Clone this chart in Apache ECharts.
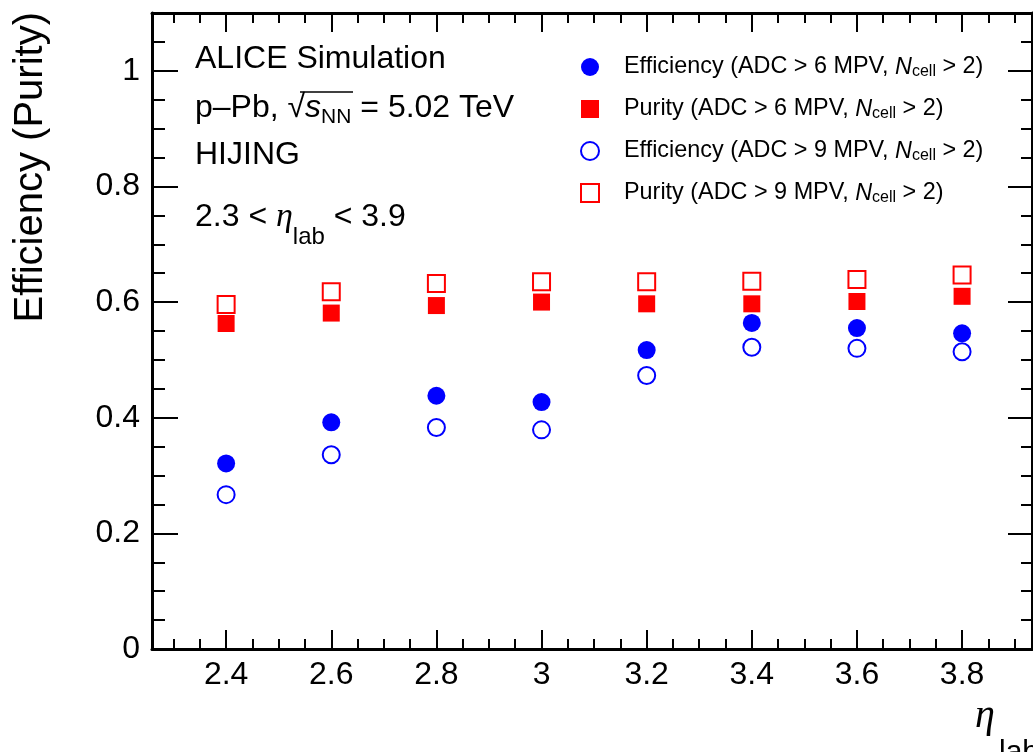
<!DOCTYPE html>
<html>
<head>
<meta charset="utf-8">
<title>Efficiency and purity vs eta</title>
<script src="https://cdn.jsdelivr.net/npm/echarts@6/dist/echarts.min.js"></script>
<style>
  html, body { margin: 0; padding: 0; background: #fff; }
  #chart { width: 1033px; height: 752px; }
</style>
</head>
<body>
<div id="chart"></div>
<script>
// eta_lab bin centres
const etaBins = [2.4, 2.6, 2.8, 3.0, 3.2, 3.4, 3.6, 3.8];

// ADC > 6 MPV, N_cell > 2
const effAdc6 = [0.321, 0.392, 0.438, 0.427, 0.517, 0.564, 0.555, 0.546];
const purAdc6 = [0.563, 0.581, 0.594, 0.600, 0.597, 0.597, 0.601, 0.610];

// ADC > 9 MPV, N_cell > 2
const effAdc9 = [0.267, 0.336, 0.383, 0.379, 0.473, 0.522, 0.520, 0.514];
const purAdc9 = [0.596, 0.618, 0.632, 0.635, 0.635, 0.636, 0.639, 0.647];

// series names (N_cell is typeset with an italic N and a subscript)
const seriesNames = [
  'Efficiency (ADC > 6 MPV, N_cell > 2)',
  'Purity (ADC > 6 MPV, N_cell > 2)',
  'Efficiency (ADC > 9 MPV, N_cell > 2)',
  'Purity (ADC > 9 MPV, N_cell > 2)'
];

// axis ticks
const xMajorTicks = [2.4, 2.6, 2.8, 3.0, 3.2, 3.4, 3.6, 3.8];
const xMinorTicks = [2.3, 2.35, 2.45, 2.5, 2.55, 2.65, 2.7, 2.75, 2.85, 2.9, 2.95,
                     3.05, 3.1, 3.15, 3.25, 3.3, 3.35, 3.45, 3.5, 3.55, 3.65, 3.7, 3.75, 3.85, 3.9];
const yMajorTicks = [0, 0.2, 0.4, 0.6, 0.8, 1.0];
const yMinorTicks = [0.05, 0.1, 0.15, 0.25, 0.3, 0.35, 0.45, 0.5, 0.55, 0.65, 0.7, 0.75,
                     0.85, 0.9, 0.95, 1.05];

const X_RANGE = [2.259, 3.933];
const Y_RANGE = [0, 1.1];

const SANS = '"Liberation Sans", Arial, Helvetica, sans-serif';
const SERIF = '"Liberation Serif", "DejaVu Serif", serif';
const BLUE = '#0000ff';
const RED = '#ff0000';

function pairs(xs, ys) {
  return xs.map((x, i) => [x, ys[i]]);
}

const frameRect = { left: 152, right: 1, top: 13, bottom: 103 };

function xAxisDef(gridIndex, position, ticks, length, withLine, withLabels) {
  return {
    type: 'value', gridIndex, position,
    min: X_RANGE[0], max: X_RANGE[1],
    axisLine: { show: withLine, onZero: false, lineStyle: { color: '#000', width: 3 } },
    axisTick: { show: true, inside: true, length, customValues: ticks,
                lineStyle: { color: '#000', width: 2 } },
    axisLabel: { show: withLabels, customValues: ticks, margin: 10,
                 fontSize: 32, fontFamily: SANS, color: '#000' },
    splitLine: { show: false }
  };
}

function yAxisDef(gridIndex, position, ticks, length, withLine, withLabels) {
  return {
    type: 'value', gridIndex, position,
    min: Y_RANGE[0], max: Y_RANGE[1],
    axisLine: { show: withLine, onZero: false, lineStyle: { color: '#000', width: 3 } },
    axisTick: { show: true, inside: true, length, customValues: ticks,
                lineStyle: { color: '#000', width: 2 } },
    axisLabel: { show: withLabels, customValues: ticks, margin: 12,
                 fontSize: 32, fontFamily: SANS, color: '#000' },
    splitLine: { show: false }
  };
}

function scatter(name, ys, symbol, size, filled, color) {
  return {
    type: 'scatter', name,
    xAxisIndex: 0, yAxisIndex: 0,
    data: pairs(etaBins, ys),
    symbol, symbolSize: size,
    itemStyle: filled
      ? { color, opacity: 1 }
      : { color: 'rgba(255,255,255,0)', borderColor: color, borderWidth: 2, opacity: 1 },
    emphasis: { disabled: true },
    silent: true
  };
}

const chart = echarts.init(document.getElementById('chart'), null, { renderer: 'canvas' });

chart.setOption({
  backgroundColor: '#fff',
  animation: false,
  grid: [
    Object.assign({ show: false }, frameRect),
    Object.assign({ show: false }, frameRect)
  ],
  xAxis: [
    xAxisDef(0, 'bottom', xMajorTicks, 19, true, true),
    xAxisDef(0, 'top', xMajorTicks, 19, true, false),
    xAxisDef(1, 'bottom', xMinorTicks, 10, false, false),
    xAxisDef(1, 'top', xMinorTicks, 10, false, false)
  ],
  yAxis: [
    yAxisDef(0, 'left', yMajorTicks, 26, true, true),
    yAxisDef(0, 'right', yMajorTicks, 24, true, false),
    yAxisDef(1, 'left', yMinorTicks, 13, false, false),
    yAxisDef(1, 'right', yMinorTicks, 11, false, false)
  ],
  legend: {
    orient: 'vertical',
    left: 575, top: 49,
    itemWidth: 18, itemHeight: 18, itemGap: 16,
    selectedMode: false,
    data: seriesNames,
    formatter: name => '{t|' + name.replace('N_cell', '}{n|N}{s|cell}{t|') + '}',
    textStyle: {
      color: '#000', fontFamily: SANS, fontSize: 23, lineHeight: 26,
      padding: [0, 0, 0, 20],
      rich: {
        t: { fontFamily: SANS, fontSize: 23.4, lineHeight: 26, color: '#000' },
        n: { fontFamily: SANS, fontSize: 23.4, lineHeight: 26, fontStyle: 'italic', color: '#000' },
        s: { fontFamily: SANS, fontSize: 16, lineHeight: 8, verticalAlign: 'bottom', color: '#000' }
      }
    }
  },
  series: [
    scatter(seriesNames[0], effAdc6, 'circle', 18, true, BLUE),
    scatter(seriesNames[1], purAdc6, 'rect', 17, true, RED),
    scatter(seriesNames[2], effAdc9, 'circle', 17, false, BLUE),
    scatter(seriesNames[3], purAdc9, 'rect', 17, false, RED)
  ],
  graphic: [
    // y-axis title, right-aligned to the top of the frame
    { type: 'text', x: 51, y: 12, rotation: Math.PI / 2, silent: true,
      style: { text: 'Efficiency (Purity)', font: `40px ${SANS}`, fill: '#000',
               align: 'right', verticalAlign: 'bottom' } },
    // x-axis title
    { type: 'text', x: 985, y: 716, silent: true,
      style: { text: 'η', font: `italic 40px ${SERIF}`, fill: '#000',
               align: 'center', verticalAlign: 'middle' } },
    { type: 'text', x: 999, y: 753, silent: true,
      style: { text: 'lab', font: `30px ${SANS}`, fill: '#000',
               align: 'left', verticalAlign: 'middle' } },
    // annotation block
    { type: 'text', x: 195, y: 59.5, silent: true,
      style: { text: 'ALICE Simulation', font: `32px ${SANS}`, fill: '#000',
               align: 'left', verticalAlign: 'middle' } },
    { type: 'text', x: 195, y: 108, silent: true,
      style: {
        text: '{t|p–Pb, √}{i|s}{s|NN}{t| = 5.02 TeV}',
        align: 'left', verticalAlign: 'middle',
        rich: {
          t: { fontFamily: SANS, fontSize: 32, lineHeight: 40, fill: '#000' },
          i: { fontFamily: SANS, fontSize: 32, lineHeight: 40, fontStyle: 'italic', fill: '#000' },
          s: { fontFamily: SANS, fontSize: 21, lineHeight: 12, verticalAlign: 'bottom', fill: '#000' }
        }
      } },
    { type: 'line', silent: true,
      shape: { x1: 300, y1: 92, x2: 353, y2: 92 },
      style: { stroke: '#000', lineWidth: 1.5 } },
    { type: 'text', x: 195, y: 155, silent: true,
      style: { text: 'HIJING', font: `32px ${SANS}`, fill: '#000',
               align: 'left', verticalAlign: 'middle' } },
    { type: 'text', x: 195, y: 217, silent: true,
      style: {
        text: '{t|2.3 < }{e|η}{s|lab}{t| < 3.9}',
        align: 'left', verticalAlign: 'middle',
        rich: {
          t: { fontFamily: SANS, fontSize: 32, lineHeight: 64, fill: '#000' },
          e: { fontFamily: SERIF, fontSize: 34, lineHeight: 64, fontStyle: 'italic', fill: '#000' },
          s: { fontFamily: SANS, fontSize: 24, lineHeight: 4, verticalAlign: 'bottom', fill: '#000' }
        }
      } }
  ]
});
</script>
</body>
</html>
